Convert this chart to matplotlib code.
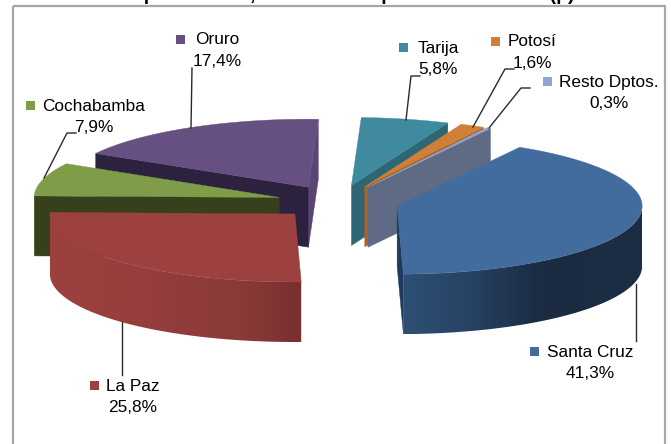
import numpy as np
import matplotlib
matplotlib.use("Agg")
import matplotlib.pyplot as plt
from matplotlib.colors import to_rgb
from matplotlib.patches import Polygon, Rectangle

# ---- data ----
departments = ["Santa Cruz", "La Paz", "Cochabamba", "Oruro", "Tarija", "Potosí", "Resto Dptos."]
shares = [41.3, 25.8, 7.9, 17.4, 5.8, 1.6, 0.3]
share_labels = ["41,3%", "25,8%", "7,9%", "17,4%", "5,8%", "1,6%", "0,3%"]
title = "Departamento, Al mes de Septiembre del 2011 (p)"

# ---- style ----
top_colors = ["#416c9d", "#9c4140", "#7f9c48", "#665082", "#3f8a9f", "#d07f37", "#8fa6cf"]
cut_colors = ["#1f3a5c", None, "#36401c", "#2c2240", "#2f6673", "#ad6129", "#5f6b85"]
cut_colors_far = {"Oruro": "#5a4578"}
# wall shading, left to right across the wall (fraction, colour)
wall_stops = {"Santa Cruz": [(0.0, "#2e4f75"), (0.28, "#274263"), (0.57, "#1b2c42"), (1.0, "#1b2d44")],
              "La Paz": [(0.0, "#9c4140"), (0.28, "#983f3e"), (0.76, "#8a3a38"), (1.0, "#792f2e")]}
draw_order = ["Oruro", "Tarija", "Potosí", "Resto Dptos.", "Cochabamba", "Santa Cruz", "La Paz"]
START_ANGLE = 60.0
CX, CY, RX, RY, DEPTH, EXPLODE = 338.0, 202.0, 245.0, 68.0, 60.0, 61.0
label_pos = {"Santa Cruz": (590, 352), "La Paz": (133, 386), "Cochabamba": (94, 106),
             "Oruro": (217, 40), "Tarija": (438, 48), "Potosí": (532, 42), "Resto Dptos.": (609, 82)}
swatch_x = {"Santa Cruz": 530, "La Paz": 90, "Cochabamba": 26, "Oruro": 176,
            "Tarija": 399, "Potosí": 491, "Resto Dptos.": 543}
leaders = {"Santa Cruz": [(636, 284), (636, 341)], "La Paz": [(121.5, 322), (121.5, 375)],
           "Cochabamba": [(44, 178), (67, 133), (76, 133)], "Oruro": [(191, 128), (192, 68)],
           "Tarija": [(406, 120), (411, 76), (420, 76)], "Potosí": [(473, 127), (505, 69), (514, 69)],
           "Resto Dptos.": [(489, 128), (521, 88), (530, 88)]}

fig = plt.figure(figsize=(6.71, 4.44), dpi=100)
ax = fig.add_axes([0, 0, 1, 1])
ax.axis("off")

ax.text(347, 0, title, ha="center", va="baseline", fontsize=14, fontweight="bold",
        family="Liberation Sans", color="black", clip_on=True)
ax.add_patch(Rectangle((13, 6), 652, 460, fill=False, ec="#a8a8a8", lw=1.6, zorder=1))


def rim_xy(c, deg):
    a = np.radians(deg)
    return c[0] + RX * np.cos(a), c[1] - RY * np.sin(a)


# slice angles derived from the values, clockwise from START_ANGLE
total = sum(shares)
spans = np.array(shares) / total * 360.0
ends = START_ANGLE - np.cumsum(spans)
starts = ends + spans
geo = {}
for name, hi, lo in zip(departments, starts, ends):
    mid = np.radians((hi + lo) / 2)
    c = (CX + EXPLODE * np.cos(mid), CY - EXPLODE * RY / RX * np.sin(mid))
    geo[name] = (hi, lo, c)

z = 2
for name in draw_order:
    i = departments.index(name)
    hi, lo, c = geo[name]
    down = np.array([0, DEPTH])
    # low-angle cut face, seen when it points to the viewer
    if np.cos(np.radians(lo)) > 0:
        col = cut_colors_far.get(name, cut_colors[i])
        p = np.array(rim_xy(c, lo))
        ax.add_patch(Polygon([c, p, p + down, np.array(c) + down], fc=col, ec=col, lw=0.3, zorder=z))
    # high-angle cut face
    if np.cos(np.radians(hi)) < 0:
        col = cut_colors[i]
        p = np.array(rim_xy(c, hi))
        ax.add_patch(Polygon([c, p, p + down, np.array(c) + down], fc=col, ec=col, lw=0.3, zorder=z))
    # curved outer wall with a smooth left-to-right gradient
    if name in wall_stops:
        a = np.linspace(max(lo, -180.0), min(hi, 0.0), 160)
        upper = np.column_stack(rim_xy(c, a))
        outline = np.vstack([upper, (upper + down)[::-1]])
        x0, x1 = outline[:, 0].min(), outline[:, 0].max()
        y0, y1 = outline[:, 1].min(), outline[:, 1].max()
        fr = [s[0] for s in wall_stops[name]]
        rgb = np.array([to_rgb(s[1]) for s in wall_stops[name]])
        u = np.linspace(0, 1, 256)
        grad = np.stack([np.interp(u, fr, rgb[:, k]) for k in range(3)], axis=1)[None, :, :]
        im = ax.imshow(grad, extent=[x0, x1, y1, y0], aspect="auto", zorder=z, interpolation="bilinear")
        im.set_clip_path(Polygon(outline, transform=ax.transData))
    # top surface
    t = np.linspace(lo, hi, 120)
    pts = np.column_stack(rim_xy(c, t))
    ax.add_patch(Polygon(np.vstack([[c], pts]), fc=top_colors[i], ec=top_colors[i], lw=0.3, zorder=z + 0.5))
    z += 1

for i, name in enumerate(departments):
    x, y = label_pos[name]
    ax.plot(*zip(*leaders[name]), color="#2a2a2a", lw=1.0, zorder=30)
    ax.text(x, y, name, ha="center", va="center", fontsize=12.4, family="Liberation Sans",
            color="black", zorder=31)
    ax.text(x, y + 21, share_labels[i], ha="center", va="center", fontsize=12.4,
            family="Liberation Sans", color="black", zorder=31)
    ax.add_patch(Rectangle((swatch_x[name], y - 5), 9, 9, fc=top_colors[i], ec="none", zorder=31))

ax.set_xlim(0, 671)
ax.set_ylim(444, 0)
fig.savefig("out.png", dpi=100)
